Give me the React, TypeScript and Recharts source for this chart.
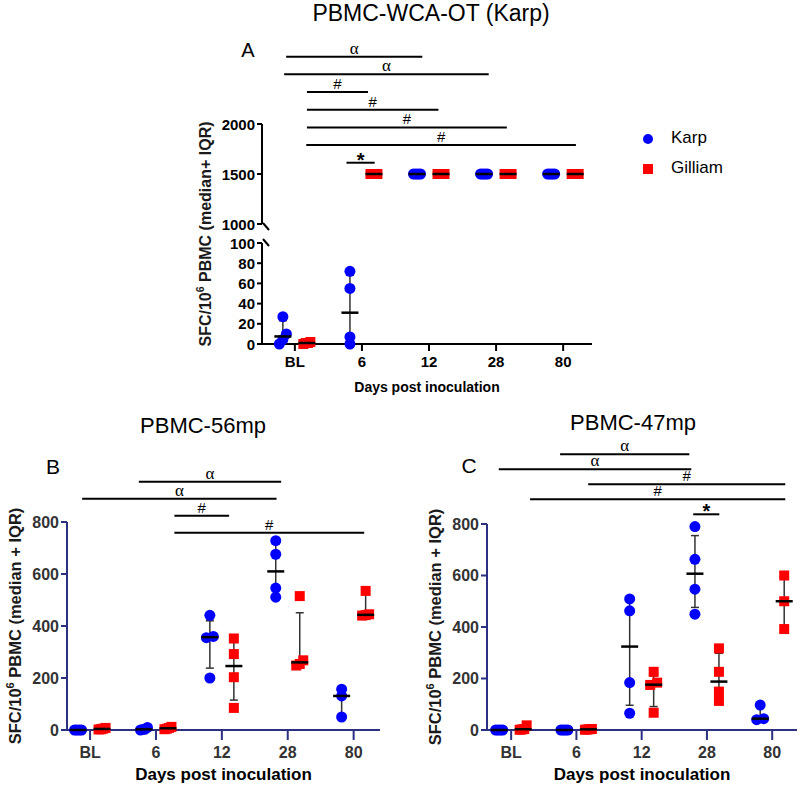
import React from 'react';
import { ScatterChart, Scatter, XAxis, YAxis, ErrorBar, ReferenceLine, Legend } from 'recharts';

const FONT = '"Liberation Sans", Arial, Helvetica, sans-serif';
const SERIF = '"Liberation Serif", "Times New Roman", serif';
const BLUE = '#0000ff';
const RED = '#ff0000';
const NAVY = '#2b3180';

const categories = ['BL', '6', '12', '28', '80'];
const categoryTicks = [0, 1, 2, 3, 4];
const seriesOrder = ['Karp', 'Gilliam'];

// ---------- Panel A: PBMC-WCA-OT (Karp)
const aKarpValues = [[0, 4.5, 10, 27], [0, 7, 55, 72], [1500, 1500, 1500, 1500], [1500, 1500, 1500, 1500], [1500, 1500, 1500, 1500]];
const aKarpMedian = [7.5, 31, 1500, 1500, 1500];
const aKarpQ1 = [1, 2, 1500, 1500, 1500];
const aKarpQ3 = [23, 68, 1500, 1500, 1500];
const aGilliamValues = [[0, 1, 2, 1], [1500, 1500, 1500, 1500], [1500, 1500, 1500, 1500], [1500, 1500, 1500, 1500], [1500, 1500, 1500, 1500]];
const aGilliamMedian = [1, 1500, 1500, 1500, 1500];
const aGilliamQ1 = [0.5, 1500, 1500, 1500, 1500];
const aGilliamQ3 = [1.8, 1500, 1500, 1500, 1500];
const aUpperTicks = [1000, 1500, 2000];
const aLowerTicks = [0, 20, 40, 60, 80, 100];
const aSigLabels = ['α', 'α', '#', '#', '#', '#', '*'];
const aSigFrom = [-0.13, -0.16, 0.18, 0.18, 0.18, 0.17, 0.77];
const aSigTo = [1.9, 2.89, 1.09, 2.14, 3.16, 4.19, 1.19];

// ---------- Panel B: PBMC-56mp
const bKarpValues = [[0, 0, 0, 0], [0, 10, 3, 2], [441, 360, 355, 200], [728, 676, 546, 511], [157, 131, 50]];
const bKarpMedian = [0, 2.5, 357, 610, 131];
const bKarpQ1 = [0, 1, 238, 520, 50];
const bKarpQ3 = [0, 8, 420, 715, 155];
const bGilliamValues = [[3, 8, 5, 2], [5, 12, 8, 3], [352, 292, 203, 85], [515, 268, 254, 248], [535, 445, 442, 440]];
const bGilliamMedian = [4, 6.5, 246, 260, 443];
const bGilliamQ1 = [2.2, 3.5, 115, 250, 440];
const bGilliamQ3 = [7, 11, 337, 451, 532];
const bSigLabels = ['α', 'α', '#', '#'];
const bSigFrom = [0.74, -0.12, 1.28, 1.28];
const bSigTo = [2.9, 2.83, 2.11, 4.16];

// ---------- Panel C: PBMC-47mp
const cKarpValues = [[0, 0, 0, 0], [0, 0, 0, 0], [509, 463, 184, 65], [790, 663, 547, 450], [97, 44, 40]];
const cKarpMedian = [0, 0, 324, 607, 44];
const cKarpQ1 = [0, 0, 96, 476, 40];
const cKarpQ3 = [0, 0, 500, 755, 95];
const cGilliamValues = [[18, 4, 2, 1], [3, 2, 4, 1], [226, 184, 175, 67], [317, 226, 149, 113], [600, 500, 392]];
const cGilliamMedian = [3, 2.5, 176, 188, 500];
const cGilliamQ1 = [1.2, 1.5, 91, 123, 392];
const cGilliamQ3 = [14, 3.5, 210, 298, 600];
const cSigLabels = ['α', 'α', '#', '#', '*'];
const cSigFrom = [0.75, -0.19, 1.18, 0.29, 2.79];
const cSigTo = [2.73, 2.76, 4.2, 4.2, 3.19];

const bcTicks = [0, 200, 400, 600, 800];

type Group = { values: number[][]; median: number[]; q1: number[]; q3: number[] };
type Sig = { labels: string[]; from: number[]; to: number[] };
type Box = { left: number; top: number; width: number; height: number };
type Plot = { left: number; top: number; right: number; bottom: number };

const sigStyle: Record<string, any> = {
  'α': { fontFamily: SERIF, fontSize: 17, offset: 3, fontWeight: 'normal' },
  '#': { fontFamily: FONT, fontSize: 15, offset: 3, fontWeight: 'normal' },
  '*': { fontFamily: FONT, fontSize: 20, offset: -4, fontWeight: 'bold' },
};

function buildPoints(values: number[][], shiftPx: number, pxX: number, pxY: number, keep: (v: number) => boolean, spread: number) {
  const out: { x: number; y: number }[] = [];
  values.forEach((vals, i) => {
    const kept = vals.filter(keep).slice().sort((a, b) => a - b);
    const clusters: number[][] = [];
    kept.forEach((v) => {
      const last = clusters[clusters.length - 1];
      if (last && (v - last[last.length - 1]) * pxY < 6) last.push(v);
      else clusters.push([v]);
    });
    clusters.forEach((c) =>
      c.forEach((v, k) => {
        const off = c.length > 1 ? -spread / 2 + (k * spread) / (c.length - 1) : 0;
        out.push({ x: i + (shiftPx + off) / pxX, y: v });
      })
    );
  });
  return out;
}

function buildSummary(g: Group, shiftPx: number, pxX: number, keep: (v: number) => boolean) {
  return g.median
    .map((m, i) => ({ x: i + shiftPx / pxX, y: m, err: [m - g.q1[i], g.q3[i] - m] }))
    .filter((d) => keep(d.y));
}

const circleShape = (p: any) => <circle cx={p.cx} cy={p.cy} r={5.5} fill={BLUE} />;
const squareShape = (p: any) => <rect x={p.cx - 5} y={p.cy - 5} width={10} height={10} fill={RED} />;
const medianShape = (p: any) => (
  <line x1={p.cx - 8.5} x2={p.cx + 8.5} y1={p.cy} y2={p.cy} stroke="#000" strokeWidth={2.5} />
);

interface PanelProps {
  div: Box;
  plot: Plot;
  xDomain: [number, number];
  yDomain: [number, number];
  yTicks: number[];
  karp: Group;
  gilliam: Group;
  keep: (v: number) => boolean;
  axisColor: string;
  tickColor: string;
  tickFont: number;
  xTickSize: number;
  xTickMargin: number;
  yTickSize: number;
  showX: boolean;
  xLabel?: { text: string; size: number; cy: number };
  yLabel?: { pre: string; sup: string; post: string; size: number; cx: number; cy: number };
  sig?: Sig;
  sigRow0?: number;
  sigGap?: number;
  breakTick?: { value: number; dir: 'bottom' | 'top' };
  legend?: boolean;
  spread: number;
}

function Panel(props: PanelProps) {
  const { div, plot, xDomain, yDomain } = props;
  const Y_W = 60;
  const X_H = props.showX ? 50 : 0;
  const margin = {
    left: plot.left - div.left - Y_W,
    top: plot.top - div.top,
    right: div.left + div.width - plot.right,
    bottom: div.top + div.height - plot.bottom - X_H,
  };
  const pxX = (plot.right - plot.left) / (xDomain[1] - xDomain[0]);
  const pxY = (plot.bottom - plot.top) / (yDomain[1] - yDomain[0]);
  const karpPts = buildPoints(props.karp.values, -12, pxX, pxY, props.keep, props.spread);
  const gilPts = buildPoints(props.gilliam.values, 12, pxX, pxY, props.keep, props.spread);
  const karpSum = buildSummary(props.karp, -12, pxX, props.keep);
  const gilSum = buildSummary(props.gilliam, 12, pxX, props.keep);

  const yTick = (p: any) => {
    const v = p.payload.value;
    const ax = p.x + props.yTickSize + 2;
    const bt = props.breakTick;
    return (
      <g>
        <text x={p.x} y={p.y} dy={5.5} textAnchor="end" fill={props.tickColor} fontSize={props.tickFont} fontWeight="bold" fontFamily={FONT}>
          {v}
        </text>
        {bt && v === bt.value ? (
          <line
            x1={ax + 1}
            y1={p.y + (bt.dir === 'bottom' ? -1 : -4)}
            x2={ax + 7}
            y2={p.y + (bt.dir === 'bottom' ? 6 : 3)}
            stroke={props.axisColor}
            strokeWidth={2}
          />
        ) : null}
      </g>
    );
  };

  const yl = props.yLabel;
  const yLabelContent = yl
    ? () => {
        const cx = yl.cx - div.left;
        const cy = yl.cy - div.top;
        return (
          <text
            x={cx}
            y={cy}
            transform={`rotate(-90 ${cx} ${cy})`}
            textAnchor="middle"
            dominantBaseline="central"
            fontFamily={FONT}
            fontWeight="bold"
            fontSize={yl.size}
            fill="#1a1a1a"
          >
            <tspan>{yl.pre}</tspan>
            <tspan dy={-5} fontSize={yl.size * 0.66}>{yl.sup}</tspan>
            <tspan dy={5}>{yl.post}</tspan>
          </text>
        );
      }
    : undefined;

  const xl = props.xLabel;
  const xLabelContent = xl
    ? () => (
        <text
          x={(plot.left + plot.right) / 2 - div.left}
          y={xl.cy - div.top}
          textAnchor="middle"
          dominantBaseline="central"
          fontFamily={FONT}
          fontWeight="bold"
          fontSize={xl.size}
          fill="#000"
        >
          {xl.text}
        </text>
      )
    : undefined;

  const sigLines = props.sig
    ? props.sig.labels.map((lab, i) => {
        const rowPx = (props.sigRow0 as number) + i * (props.sigGap as number);
        const yv = yDomain[1] + (plot.top - rowPx) / pxY;
        const st = sigStyle[lab];
        return (
          <ReferenceLine
            key={`sig${i}`}
            segment={[
              { x: props.sig!.from[i], y: yv },
              { x: props.sig!.to[i], y: yv },
            ]}
            stroke="#000"
            strokeWidth={2}
            ifOverflow="visible"
            label={{
              value: lab,
              position: 'top',
              offset: st.offset,
              fill: '#000',
              fontSize: st.fontSize,
              fontFamily: st.fontFamily,
              fontWeight: st.fontWeight,
            }}
          />
        );
      })
    : null;

  return (
    <div style={{ position: 'absolute', left: div.left, top: div.top, width: div.width, height: div.height }}>
      <ScatterChart width={div.width} height={div.height} margin={margin}>
        <XAxis
          type="number"
          dataKey="x"
          domain={xDomain}
          ticks={categoryTicks}
          interval={0}
          tickFormatter={(v: number) => categories[v]}
          hide={!props.showX}
          height={50}
          stroke={props.axisColor}
          axisLine={{ stroke: props.axisColor, strokeWidth: 2 }}
          tickLine={{ stroke: props.axisColor, strokeWidth: 2 }}
          tickSize={props.xTickSize}
          tickMargin={props.xTickMargin}
          tick={{ fill: props.tickColor, fontSize: props.tickFont, fontWeight: 'bold', fontFamily: FONT }}
          label={xLabelContent ? { content: xLabelContent } : undefined}
        />
        <YAxis
          type="number"
          dataKey="y"
          domain={yDomain}
          ticks={props.yTicks}
          interval={0}
          width={Y_W}
          stroke={props.axisColor}
          axisLine={{ stroke: props.axisColor, strokeWidth: 2 }}
          tickLine={{ stroke: props.axisColor, strokeWidth: 2 }}
          tickSize={props.yTickSize}
          tick={yTick}
          label={yLabelContent ? { content: yLabelContent } : undefined}
        />
        {sigLines}
        <Scatter name="Karp" data={karpPts} fill={BLUE} shape={circleShape} legendType="circle" isAnimationActive={false} />
        <Scatter name="Gilliam" data={gilPts} fill={RED} shape={squareShape} legendType="square" isAnimationActive={false} />
        <Scatter name="Karp median" data={karpSum} fill="#000" shape={medianShape} legendType="none" isAnimationActive={false}>
          <ErrorBar dataKey="err" direction="y" width={4} stroke="#333" strokeWidth={1.5} isAnimationActive={false} />
        </Scatter>
        <Scatter name="Gilliam median" data={gilSum} fill="#000" shape={medianShape} legendType="none" isAnimationActive={false}>
          <ErrorBar dataKey="err" direction="y" width={4} stroke="#333" strokeWidth={1.5} isAnimationActive={false} />
        </Scatter>
        {props.legend ? (
          <Legend
            layout="vertical"
            align="center"
            verticalAlign="middle"
            iconSize={10}
            itemSorter={(item: any) => seriesOrder.indexOf(item.value)}
            wrapperStyle={{ left: 643, top: 123, width: 150, lineHeight: '30px', fontSize: 17, fontFamily: FONT }}
            formatter={(v: any) => <span style={{ color: '#000', marginLeft: 14 }}>{v}</span>}
          />
        ) : null}
      </ScatterChart>
    </div>
  );
}

function Caption({ text, cx, cy, size, w }: { text: string; cx: number; cy: number; size: number; w: number }) {
  return (
    <div
      style={{
        position: 'absolute',
        left: cx - w / 2,
        top: cy - 0.4885 * size,
        width: w,
        textAlign: 'center',
        fontSize: size,
        lineHeight: `${size}px`,
        fontFamily: FONT,
        color: '#000',
        whiteSpace: 'nowrap',
      }}
    >
      {text}
    </div>
  );
}

const aKarp: Group = { values: aKarpValues, median: aKarpMedian, q1: aKarpQ1, q3: aKarpQ3 };
const aGilliam: Group = { values: aGilliamValues, median: aGilliamMedian, q1: aGilliamQ1, q3: aGilliamQ3 };
const bKarp: Group = { values: bKarpValues, median: bKarpMedian, q1: bKarpQ1, q3: bKarpQ3 };
const bGilliam: Group = { values: bGilliamValues, median: bGilliamMedian, q1: bGilliamQ1, q3: bGilliamQ3 };
const cKarp: Group = { values: cKarpValues, median: cKarpMedian, q1: cKarpQ1, q3: cKarpQ3 };
const cGilliam: Group = { values: cGilliamValues, median: cGilliamMedian, q1: cGilliamQ1, q3: cGilliamQ3 };

export default function App() {
  const aX: [number, number] = [-0.49, 4.43];
  return (
    <div style={{ position: 'absolute', left: 0, top: 0, width: 800, height: 787, background: '#fff', overflow: 'hidden' }}>
      <Caption text="PBMC-WCA-OT (Karp)" cx={431} cy={13} size={23} w={400} />
      <Caption text="A" cx={248} cy={50} size={20} w={40} />
      <Caption text="PBMC-56mp" cx={203} cy={426} size={22} w={300} />
      <Caption text="B" cx={53} cy={466} size={21} w={40} />
      <Caption text="PBMC-47mp" cx={633} cy={423} size={22} w={300} />
      <Caption text="C" cx={469} cy={465} size={21} w={40} />

      {/* Panel A, upper segment (broken axis) */}
      <Panel
        div={{ left: 0, top: 0, width: 800, height: 400 }}
        plot={{ left: 262, top: 124, right: 592, bottom: 224 }}
        xDomain={aX}
        yDomain={[1000, 2000]}
        yTicks={aUpperTicks}
        karp={aKarp}
        gilliam={aGilliam}
        keep={(v) => v >= 1000}
        axisColor="#000"
        tickColor="#000"
        tickFont={15}
        xTickSize={7}
        xTickMargin={5}
        yTickSize={5}
        showX={false}
        yLabel={{ pre: 'SFC/10', sup: '6', post: ' PBMC (median+ IQR)', size: 16, cx: 205, cy: 234 }}
        sig={{ labels: aSigLabels, from: aSigFrom, to: aSigTo }}
        sigRow0={56.7}
        sigGap={17.67}
        breakTick={{ value: 1000, dir: 'bottom' }}
        legend
        spread={7}
      />
      {/* Panel A, lower segment */}
      <Panel
        div={{ left: 0, top: 0, width: 800, height: 400 }}
        plot={{ left: 262, top: 243, right: 592, bottom: 344 }}
        xDomain={aX}
        yDomain={[0, 100]}
        yTicks={aLowerTicks}
        karp={aKarp}
        gilliam={aGilliam}
        keep={(v) => v <= 100}
        axisColor="#000"
        tickColor="#000"
        tickFont={15}
        xTickSize={7}
        xTickMargin={5}
        yTickSize={5}
        showX
        xLabel={{ text: 'Days post inoculation', size: 14, cy: 387 }}
        breakTick={{ value: 100, dir: 'top' }}
        spread={7}
      />
      {/* Panel B */}
      <Panel
        div={{ left: 0, top: 400, width: 400, height: 387 }}
        plot={{ left: 67, top: 522, right: 380, bottom: 730 }}
        xDomain={[-0.35, 4.4]}
        yDomain={[0, 800]}
        yTicks={bcTicks}
        karp={bKarp}
        gilliam={bGilliam}
        keep={() => true}
        axisColor={NAVY}
        tickColor="#333"
        tickFont={16}
        xTickSize={10}
        xTickMargin={7}
        yTickSize={6}
        showX
        xLabel={{ text: 'Days post inoculation', size: 17, cy: 774.5 }}
        yLabel={{ pre: 'SFC/10', sup: '6', post: ' PBMC (median + IQR)', size: 16.5, cx: 15, cy: 626 }}
        sig={{ labels: bSigLabels, from: bSigFrom, to: bSigTo }}
        sigRow0={481.7}
        sigGap={17}
        spread={7}
      />
      {/* Panel C */}
      <Panel
        div={{ left: 400, top: 400, width: 400, height: 387 }}
        plot={{ left: 487, top: 524, right: 797, bottom: 730 }}
        xDomain={[-0.37, 4.38]}
        yDomain={[0, 800]}
        yTicks={bcTicks}
        karp={cKarp}
        gilliam={cGilliam}
        keep={() => true}
        axisColor={NAVY}
        tickColor="#333"
        tickFont={16}
        xTickSize={10}
        xTickMargin={7}
        yTickSize={6}
        showX
        xLabel={{ text: 'Days post inoculation', size: 17, cy: 774.5 }}
        yLabel={{ pre: 'SFC/10', sup: '6', post: ' PBMC (median + IQR)', size: 16.5, cx: 435, cy: 627 }}
        sig={{ labels: cSigLabels, from: cSigFrom, to: cSigTo }}
        sigRow0={454.3}
        sigGap={15}
        spread={7}
      />
    </div>
  );
}
